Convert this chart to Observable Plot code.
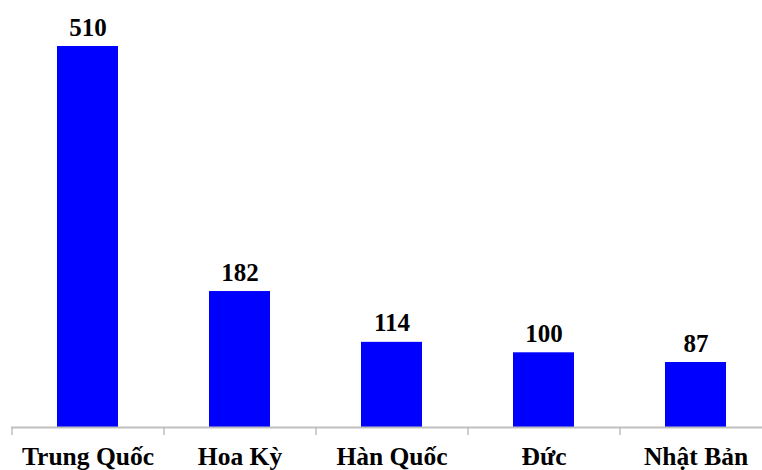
<!DOCTYPE html>
<html>
<head>
<meta charset="utf-8">
<script src="https://cdn.jsdelivr.net/npm/d3@7"></script>
<script src="https://cdn.jsdelivr.net/npm/@observablehq/plot@0.6"></script>
<style>
  html, body { margin: 0; padding: 0; background: #fff; }
  #chart { width: 762px; height: 470px; overflow: hidden; }
</style>
</head>
<body>
<div id="chart"></div>
<script>
const countries = ["Trung Quốc", "Hoa Kỳ", "Hàn Quốc", "Đức", "Nhật Bản"];
const values = [510, 182, 114, 100, 87];

const data = countries.map((c, i) => ({country: c, value: values[i]}));

const W = 762, H = 470;
const xLeft = 11, xRight = 771;
const half = (xRight - xLeft) / countries.length / 2;
const font = "'Liberation Serif', 'Times New Roman', serif";

const chart = Plot.plot({
  width: W,
  height: H,
  marginLeft: xLeft,
  marginRight: 0,
  marginTop: 46,
  marginBottom: 43,
  style: {fontFamily: font, background: "#fff"},
  x: {domain: countries, range: [xLeft, xRight], paddingInner: 0.6, paddingOuter: 0.3, align: 0.5},
  y: {domain: [0, 510], axis: null},
  marks: [
    Plot.barY(data, {x: "country", y: "value", fill: "#0000ff"}),
    Plot.text(data, {
      x: "country", y: "value", text: d => String(d.value),
      lineAnchor: "bottom", dy: -11,
      fontSize: 25, fontWeight: "bold", fill: "#000"
    }),
    Plot.ruleY([0], {stroke: "#bfbfbf", strokeWidth: 2}),
    Plot.axisX({
      tickSize: 8, dx: -half, stroke: "#bfbfbf",
      strokeWidth: 1.5, label: null, text: null
    }),
    Plot.axisX({
      tickSize: 0, tickPadding: 19, label: null,
      fontSize: 25.5, fontWeight: "bold", fill: "#000"
    })
  ]
});
chart.querySelectorAll("text").forEach(t => t.style.fontWeight = "bold");
document.getElementById("chart").appendChild(chart);
</script>
</body>
</html>
